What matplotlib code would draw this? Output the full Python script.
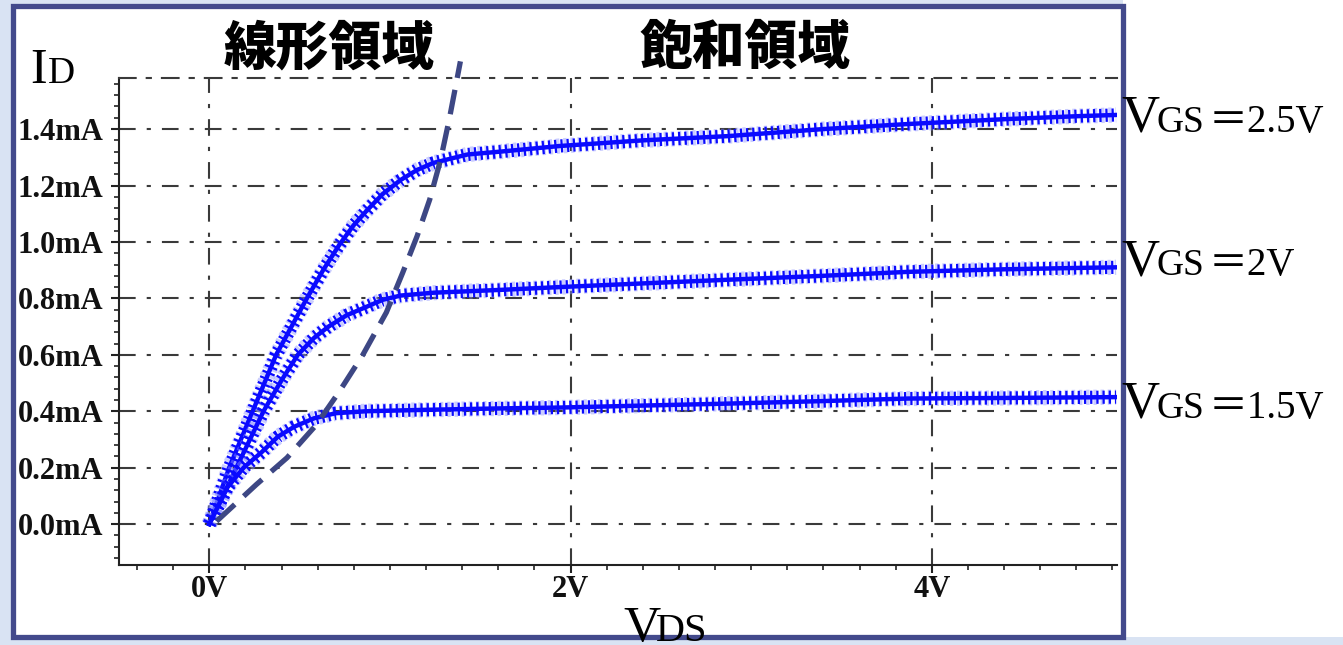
import matplotlib
matplotlib.use("Agg")
import matplotlib.pyplot as plt
from matplotlib.patches import Rectangle
from matplotlib.ticker import MultipleLocator

# ID-VDS curves (VDS in V, ID in mA)
vds_25 = [0, 0.11, 0.24, 0.37, 0.54, 0.63, 0.72, 0.80, 0.87, 0.96, 1.06, 1.15, 1.24, 1.43, 1.61, 1.94, 2.4, 2.87, 3.4, 3.87, 4.4, 4.82, 5.02]
id_25 = [0, 0.20, 0.40, 0.60, 0.80, 0.90, 0.99, 1.06, 1.11, 1.17, 1.22, 1.255, 1.28, 1.31, 1.32, 1.34, 1.36, 1.375, 1.40, 1.418, 1.435, 1.446, 1.45]

vds_20 = [0, 0.15, 0.30, 0.40, 0.49, 0.58, 0.66, 0.76, 0.87, 0.96, 1.06, 1.24, 1.61, 1.94, 2.4, 2.87, 3.4, 3.87, 4.4, 4.82, 5.02]
id_20 = [0, 0.20, 0.40, 0.51, 0.60, 0.66, 0.70, 0.74, 0.77, 0.795, 0.81, 0.82, 0.83, 0.84, 0.853, 0.866, 0.88, 0.894, 0.903, 0.908, 0.91]

vds_15 = [0, 0.10, 0.19, 0.29, 0.38, 0.47, 0.58, 0.70, 0.87, 1.2, 1.61, 1.94, 2.4, 2.87, 3.4, 3.87, 4.4, 4.82, 5.02]
id_15 = [0, 0.13, 0.20, 0.255, 0.31, 0.345, 0.375, 0.393, 0.40, 0.405, 0.41, 0.413, 0.42, 0.427, 0.436, 0.445, 0.447, 0.449, 0.45]

# boundary between linear and saturation region
vds_sat = [0.04, 0.26, 0.43, 0.59, 0.72, 0.85, 0.98, 1.07, 1.15, 1.22, 1.28, 1.33, 1.39]
id_sat = [0.01, 0.14, 0.235, 0.35, 0.47, 0.60, 0.75, 0.89, 1.02, 1.15, 1.29, 1.44, 1.64]

x_ticks = [0, 2, 4]
x_labels = ["0V", "2V", "4V"]
y_ticks = [0.0, 0.2, 0.4, 0.6, 0.8, 1.0, 1.2, 1.4]
y_labels = ["%.1fmA" % v for v in y_ticks]

W, H = 1343, 645


def fx(px):
    return px / W


def fy(py):
    return 1 - py / H


fig = plt.figure(figsize=(W / 100, H / 100), dpi=100, facecolor="white")

# background strips and the framed panel
for x0, y0, x1, y1 in [(0, 0, 13, H), (0, 637, W, H), (0, 0, 1123, 6)]:
    fig.patches.append(Rectangle((fx(x0), fy(y1)), fx(x1) - fx(x0), fy(y0) - fy(y1),
                                 transform=fig.transFigure, facecolor="#d9e3f3",
                                 edgecolor="none", zorder=0))
fig.patches.append(Rectangle((fx(12.5), fy(637)), fx(1122.5) - fx(12.5), fy(6) - fy(637),
                             transform=fig.transFigure, fill=False,
                             edgecolor="#434a8c", lw=3.8, zorder=2))

ax = fig.add_axes([fx(119), fy(565), fx(1117) - fx(119), fy(78) - fy(565)])
ax.set_xlim(-0.5, 5.025)
ax.set_ylim(-0.145, 1.581)
ax.patch.set_alpha(0)

dashdot = (0, (8, 5.3, 2, 5.3))
ax.spines["right"].set_visible(False)
ax.spines["top"].set_linestyle(dashdot)
ax.spines["top"].set_color("#3a3a3a")
ax.spines["top"].set_linewidth(1.5)
for s in ["left", "bottom"]:
    ax.spines[s].set_linewidth(1.5)
    ax.spines[s].set_color("#222222")

ax.set_xticks(x_ticks)
ax.set_xticklabels(x_labels)
ax.set_yticks(y_ticks)
ax.set_yticklabels(y_labels)
ax.xaxis.set_minor_locator(MultipleLocator(0.2))
ax.yaxis.set_minor_locator(MultipleLocator(0.04))
ax.tick_params(which="major", direction="out", length=6, width=1.5, color="#222222")
ax.tick_params(which="minor", direction="out", length=3.5, width=1.2, color="#222222")
ax.tick_params(axis="y", which="major", pad=5)
ax.tick_params(axis="x", which="major", pad=1.5)
for lab in ax.get_xticklabels() + ax.get_yticklabels():
    lab.set_fontfamily("Liberation Serif")
    lab.set_fontweight("bold")
    lab.set_fontsize(22)
    lab.set_color("#111111")

ax.grid(True, which="major", color="#3a3a3a", lw=1.5, linestyle=dashdot)
ax.set_axisbelow(True)

# curves: line + thick short dashes that look like dense "+" markers
for xs, ys in [(vds_25, id_25), (vds_20, id_20), (vds_15, id_15)]:
    ax.plot(xs, ys, color="#8a90ff", lw=11, alpha=0.45, linestyle=(0, (0.22, 0.25)),
            dash_capstyle="butt", zorder=3)
    ax.plot(xs, ys, color="#0a0aff", lw=9.5, linestyle=(0, (0.17, 0.3)),
            dash_capstyle="butt", zorder=3)
    ax.plot(xs, ys, color="#0a0aff", lw=3.2, zorder=3)

ax.plot(vds_sat, id_sat, color="#3d4784", lw=3.8, linestyle=(0, (4.7, 2.3)),
        dash_capstyle="butt", clip_on=False, zorder=4)

serif = ["Liberation Serif", "Noto Sans CJK JP"]
cjk = ["Noto Sans CJK JP", "DejaVu Sans"]

# axis names
fig.text(fx(30), fy(83), "I", family=serif, fontsize=36, va="baseline", ha="left")
fig.text(fx(48), fy(83), "D", family=serif, fontsize=27, va="baseline", ha="left")
fig.text(fx(623), fy(641), "V", family=serif, fontsize=37, va="baseline", ha="left", zorder=5)
fig.text(fx(656), fy(641), "DS", family=serif, fontsize=29, va="baseline", ha="left", zorder=5)

# region titles
fig.text(fx(329), fy(49), "線形領域", family=cjk, fontsize=38, fontweight="heavy",
         ha="center", va="center")
fig.text(fx(745), fy(48), "飽和領域", family=cjk, fontsize=38, fontweight="heavy",
         ha="center", va="center")

# curve labels
for base, val in [(132, "2.5V"), (275, "2V"), (418, "1.5V")]:
    fig.text(fx(1121), fy(base), "V", family=serif, fontsize=38, va="baseline", ha="left")
    fig.text(fx(1157), fy(base), "GS", family=serif, fontsize=27, va="baseline", ha="left")
    fig.text(fx(1209), fy(base), "＝" + val, family=serif, fontsize=28, va="baseline", ha="left")

fig.savefig("out.png", dpi=100, facecolor=fig.get_facecolor())
